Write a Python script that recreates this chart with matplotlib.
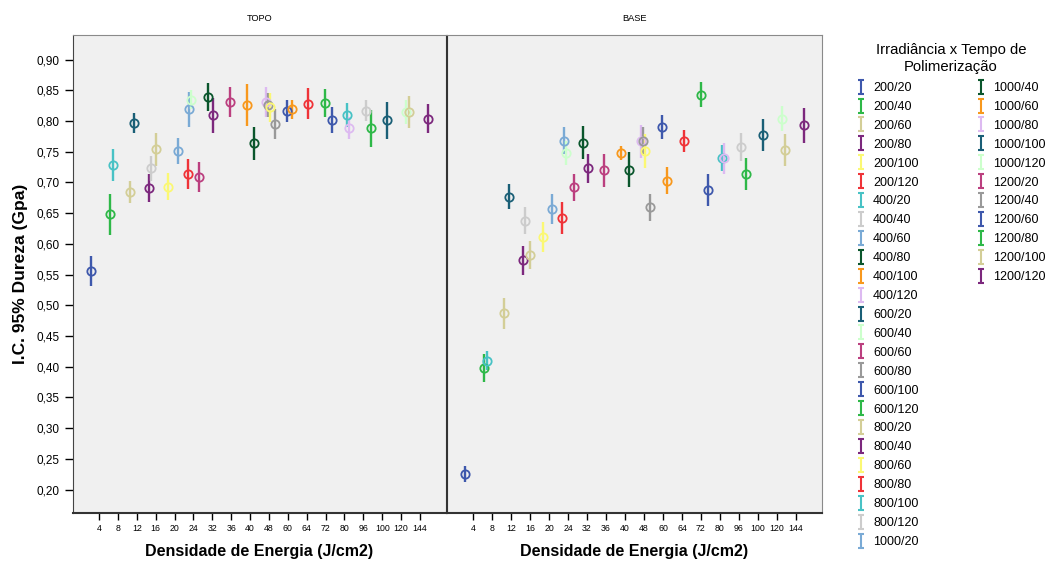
import numpy as np
import matplotlib
matplotlib.use('Agg')
import matplotlib.pyplot as plt
from matplotlib.path import Path
from matplotlib.lines import Line2D

# grupos Irradiancia x Tempo
grupos = ['200/20', '200/40', '200/60', '200/80', '200/100', '200/120',
          '400/20', '400/40', '400/60', '400/80', '400/100', '400/120',
          '600/20', '600/40', '600/60', '600/80', '600/100', '600/120',
          '800/20', '800/40', '800/60', '800/80', '800/100', '800/120',
          '1000/20', '1000/40', '1000/60', '1000/80', '1000/100', '1000/120',
          '1200/20', '1200/40', '1200/60', '1200/80', '1200/100', '1200/120']
# densidade de energia (J/cm2) de cada grupo
energia = [4, 8, 12, 16, 20, 24,
           8, 16, 24, 32, 40, 48,
           12, 24, 36, 48, 60, 72,
           16, 32, 48, 64, 80, 96,
           20, 40, 60, 80, 100, 120,
           24, 48, 72, 96, 120, 144]
categorias = [4, 8, 12, 16, 20, 24, 32, 36, 40, 48, 60, 64, 72, 80, 96, 100, 120, 144]

topo_media = [0.556, 0.648, 0.684, 0.691, 0.693, 0.714,
              0.728, 0.723, 0.819, 0.839, 0.826, 0.831,
              0.797, 0.835, 0.831, 0.826, 0.817, 0.829,
              0.754, 0.809, 0.822, 0.828, 0.810, 0.817,
              0.751, 0.764, 0.819, 0.789, 0.801, 0.815,
              0.709, 0.795, 0.801, 0.788, 0.815, 0.804]
topo_ic = [0.025, 0.034, 0.018, 0.022, 0.022, 0.024,
           0.026, 0.020, 0.028, 0.023, 0.034, 0.024,
           0.016, 0.015, 0.024, 0.020, 0.018, 0.023,
           0.027, 0.028, 0.023, 0.025, 0.020, 0.017,
           0.021, 0.027, 0.016, 0.018, 0.030, 0.020,
           0.024, 0.025, 0.021, 0.030, 0.026, 0.023]

base_media = [0.225, 0.398, 0.487, 0.573, 0.611, 0.642,
              0.410, 0.638, 0.768, 0.765, 0.748, 0.767,
              0.677, 0.748, 0.720, 0.768, 0.790, 0.843,
              0.582, 0.723, 0.751, 0.768, 0.740, 0.758,
              0.657, 0.721, 0.703, 0.739, 0.777, 0.804,
              0.692, 0.660, 0.688, 0.714, 0.753, 0.793]
base_ic = [0.013, 0.022, 0.025, 0.023, 0.024, 0.026,
           0.015, 0.022, 0.022, 0.027, 0.011, 0.027,
           0.021, 0.020, 0.027, 0.022, 0.020, 0.021,
           0.023, 0.024, 0.028, 0.018, 0.021, 0.023,
           0.024, 0.028, 0.022, 0.026, 0.026, 0.020,
           0.022, 0.022, 0.026, 0.026, 0.026, 0.028]

# paleta padrao SPSS (16 cores, repete)
paleta = ['#3E58AC', '#2EB848', '#D3CE97', '#7C287D', '#FBF873', '#EF3338',
          '#48C2C5', '#CCCCCC', '#7AAAD5', '#0A562C', '#F8981D', '#DDBAF1',
          '#1A5F76', '#CCFFCC', '#BB3F7F', '#999999']

plt.rcParams.update({'font.family': ['Liberation Sans', 'DejaVu Sans']})

fig = plt.figure(figsize=(10.49, 5.65), dpi=100)
ax1 = fig.add_axes([73/1049., 52/565., 373/1049., 478/565.])
ax2 = fig.add_axes([447/1049., 52/565., 375/1049., 478/565.])

passo = 0.895/36
for ax, media, ic, titulo in [(ax1, topo_media, topo_ic, 'TOPO'),
                               (ax2, base_media, base_ic, 'BASE')]:
    ax.set_facecolor('#F0F0F0')
    for i in range(len(grupos)):
        x = categorias.index(energia[i]) + (i - 17.5)*passo
        c = paleta[i % 16]
        ax.errorbar([x], [media[i]], yerr=[ic[i]], fmt='o', color=c,
                    mfc='none', mec=c, ms=6, mew=1.3, elinewidth=1.7, capsize=0)
    ax.set_xlim(-1.38, 18.38)
    ax.set_ylim(0.162, 0.94)
    ax.set_xticks(range(len(categorias)))
    ax.set_xticklabels([str(c) for c in categorias], fontsize=6.3)
    ax.tick_params(axis='x', direction='out', length=5, width=1, pad=3)
    ax.set_xlabel('Densidade de Energia (J/cm2)', fontsize=11.5,
                  fontweight='bold', labelpad=8)
    ax.set_title(titulo, fontsize=6.7, pad=10)
    for s in ax.spines.values():
        s.set_color('#8a8a8a')
    ax.spines['bottom'].set_color('#333333')
    ax.spines['bottom'].set_linewidth(1.5)

ax1.spines['right'].set_color('#333333')
ax1.spines['left'].set_color('#444444')
ax2.spines['left'].set_color('#333333')

ax1.set_yticks(np.arange(0.20, 0.91, 0.05))
ax1.set_yticklabels([('%.2f' % v).replace('.', ',') for v in np.arange(0.20, 0.91, 0.05)],
                    fontsize=8.5)
ax1.tick_params(axis='y', direction='out', length=6, width=1)
ax1.set_ylabel('I.C. 95% Dureza (Gpa)', fontsize=12.5, fontweight='bold', labelpad=6)
ax2.set_yticks([])

# simbolo "I" da legenda
simbolo = Path([(0, -1), (0, 1), (-0.4, 1), (0.4, 1), (-0.4, -1), (0.4, -1)],
               [Path.MOVETO, Path.LINETO, Path.MOVETO, Path.LINETO, Path.MOVETO, Path.LINETO])
handles = [Line2D([], [], ls='none', marker=simbolo, color=paleta[i % 16],
                  markersize=10, mew=1.5) for i in range(len(grupos))]

fig.text(951/1049., 1 - 43/565., 'Irradiância x Tempo de\nPolimerização',
         ha='center', va='top', fontsize=10.7, linespacing=1.25)
opts = dict(loc='upper left', frameon=False, fontsize=9, handlelength=1.0,
            handletextpad=0.45, labelspacing=0.553, borderpad=0, borderaxespad=0)
leg1 = fig.legend(handles[:25], grupos[:25],
                  bbox_to_anchor=(855/1049., 1 - 82/565.), **opts)
leg2 = fig.legend(handles[25:], grupos[25:],
                  bbox_to_anchor=(975/1049., 1 - 82/565.), **opts)

fig.savefig('out.png', dpi=100)
